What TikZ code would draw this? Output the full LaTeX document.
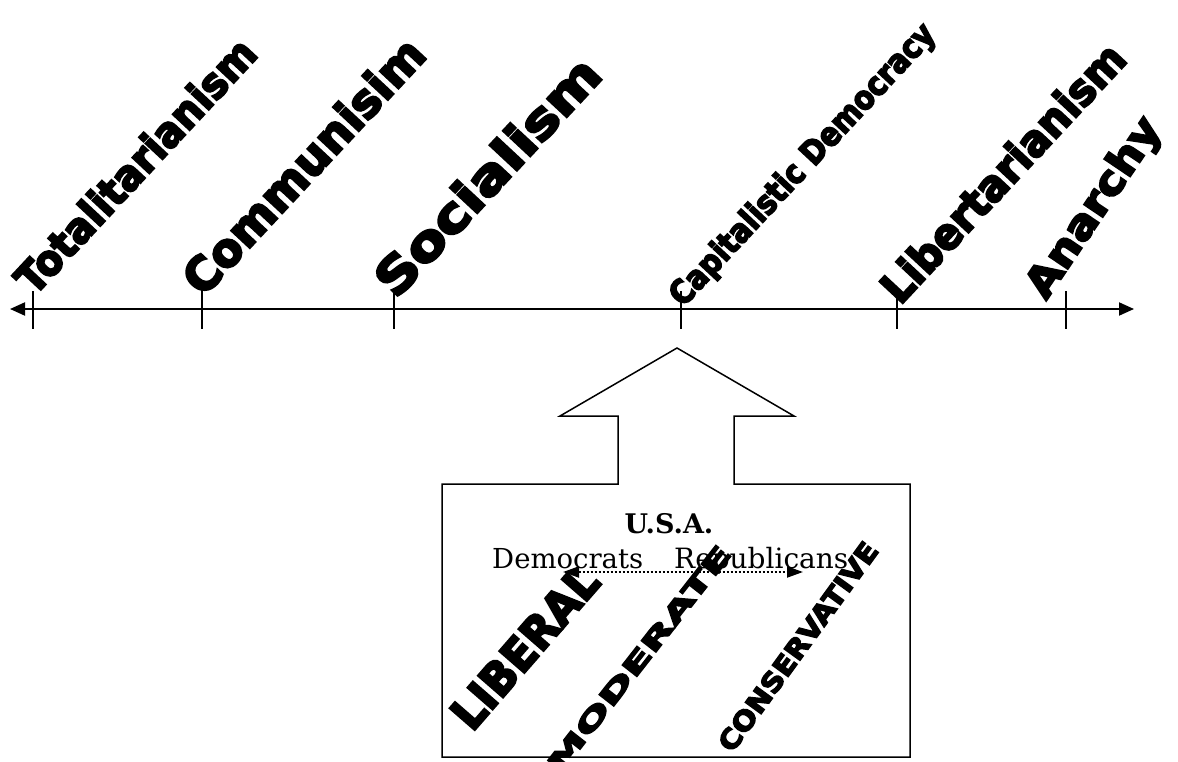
\documentclass[tikz,border=0pt]{standalone}
\usepackage{fontspec}
\usepackage{graphicx}
\usetikzlibrary{arrows.meta}
\newfontfamily\blk{DejaVu Sans}[FakeBold=5]
\newfontfamily\srf{DejaVu Serif}
\newcommand\wa[3]{\resizebox{#1pt}{#2pt}{\blk\bfseries #3}}
\tikzset{
  lab/.style={inner sep=0pt, anchor=base west},
  axisline/.style={line width=2pt, {Triangle[length=15pt,width=13pt]}-{Triangle[length=15pt,width=13pt]}},
  tickline/.style={line width=2pt},
  outline/.style={line width=1.5pt, line join=miter},
  dotarrow/.style={line width=2pt, dash pattern=on 2pt off 2pt, {Triangle[length=16pt,width=11pt]}-{Triangle[length=16pt,width=11pt]}},
  srftext/.style={inner sep=0pt, anchor=base west, font=\srf\fontsize{22}{26}\selectfont}
}
\begin{document}
\begin{tikzpicture}[x=1pt,y=-1pt]
\useasboundingbox (0,0) rectangle (1178,762);
% axis
\coordinate (axL) at (10,309);
\coordinate (axR) at (1134,309);
\draw[axisline] (axL) -- (axR);
\foreach \x in {33,202,394,681,897,1066}{
  \draw[tickline] (\x,291) -- (\x,329);
}
% top labels
\node[lab, rotate=47] (tot) at (34,297) {\wa{330}{32}{Totalitarianism}};
\node[lab, rotate=47] (com) at (203,298) {\wa{330}{35}{Communisim}};
\node[lab, rotate=47] (soc) at (396,300) {\wa{305}{37}{Socialism}};
\node[lab, rotate=47] (cap) at (683,308) {\wa{372}{25}{Capitalistic Democracy}};
\node[lab, rotate=47] (lib) at (900,306) {\wa{335}{33}{Libertarianism}};
\node[lab, rotate=56] (ana) at (1046,301) {\wa{208}{31}{Anarchy}};
% up arrow box
\draw[outline] (442,484) -- (618,484) -- (618,416) -- (560,416) -- (677,348)
  -- (794,416) -- (734,416) -- (734,484) -- (910,484) -- (910,757) -- (442,757) -- cycle;
% USA
\node[inner sep=0pt, anchor=base, font=\srf\bfseries\fontsize{27}{31}\selectfont] (usa) at (669,533) {U.S.A.};
\node[srftext] (dem) at (492,568) {\resizebox{151pt}{!}{Democrats}};
\node[srftext] (rep) at (674,568) {\resizebox{174pt}{!}{Republicans}};
\coordinate (dl) at (563,572);
\coordinate (dr) at (803,572);
\draw[dotarrow] (dl) -- (dr);
% box labels
\node[lab, rotate=49] (liberal) at (472,733) {\wa{198}{33}{LIBERAL}};
\node[lab, rotate=52] (moderate) at (560,775) {\wa{280}{19}{MODERATE}};
\node[lab, rotate=54] (conservative) at (732,754) {\wa{251}{20}{CONSERVATIVE}};
\end{tikzpicture}
\end{document}
